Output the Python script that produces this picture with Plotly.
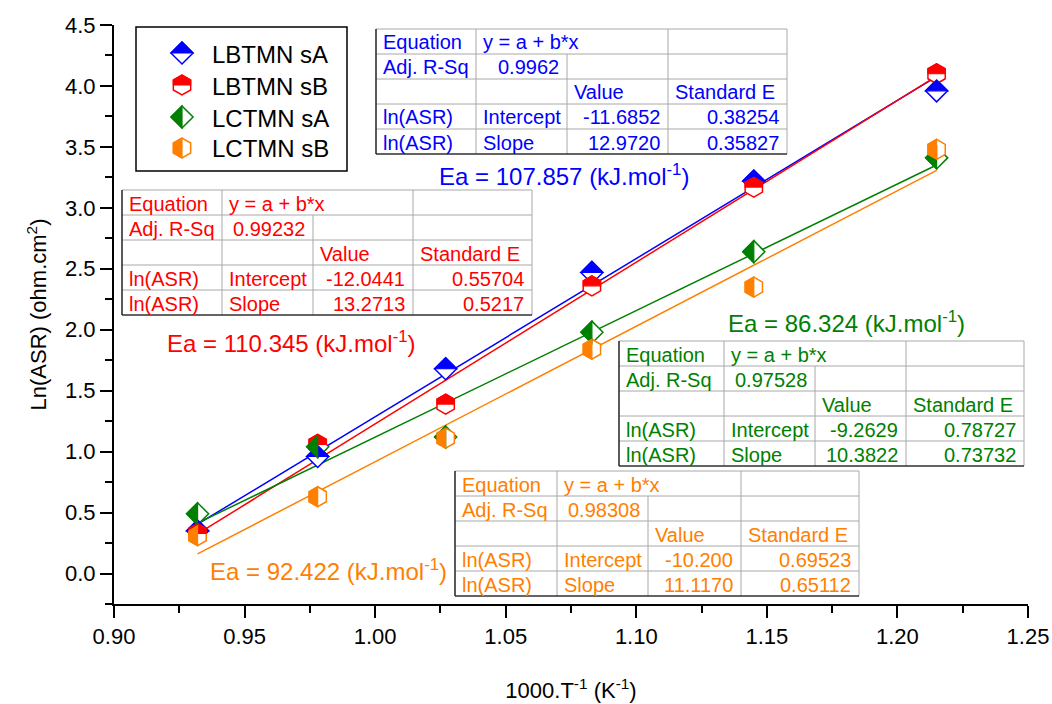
import plotly.graph_objects as go

# ---------------- data ----------------
x_vals = [0.932, 0.978, 1.027, 1.083, 1.145, 1.215]
series_names = ["LBTMN sA", "LBTMN sB", "LCTMN sA", "LCTMN sB"]
y_lbtmn_sa = [0.35, 0.96, 1.68, 2.47, 3.22, 3.96]
y_lbtmn_sb = [0.33, 1.06, 1.39, 2.36, 3.17, 4.10]
y_lctmn_sa = [0.49, 1.04, 1.12, 1.98, 2.64, 3.41]
y_lctmn_sb = [0.31, 0.63, 1.11, 1.84, 2.35, 3.48]
series_y = [y_lbtmn_sa, y_lbtmn_sb, y_lctmn_sa, y_lctmn_sb]

intercepts = [-11.6852, -12.0441, -9.2629, -10.200]
slopes = [12.9720, 13.2713, 10.3822, 11.1170]
intercept_txt = ["-11.6852", "-12.0441", "-9.2629", "-10.200"]
slope_txt = ["12.9720", "13.2713", "10.3822", "11.1170"]
intercept_se = ["0.38254", "0.55704", "0.78727", "0.69523"]
slope_se = ["0.35827", "0.5217", "0.73732", "0.65112"]
adj_r2 = ["0.9962", "0.99232", "0.97528", "0.98308"]
ea_vals = ["107.857", "110.345", "86.324", "92.422"]

x_tick_vals = [0.90, 0.95, 1.00, 1.05, 1.10, 1.15, 1.20, 1.25]
y_tick_vals = [0.0, 0.5, 1.0, 1.5, 2.0, 2.5, 3.0, 3.5, 4.0, 4.5]

# ---------------- style ----------------
FONT = "Liberation Sans, Arial, sans-serif"
colors = ["#0000FF", "#FF0000", "#008000", "#FF8000"]
symbols = ["diamond", "hexagon", "diamond", "hexagon"]
halves = ["top", "top", "left", "left"]
msize = {"diamond": 17, "hexagon": 20}

# plot area in pixels
L, R, T, B = 114, 1028, 25, 604
W, H = R - L, B - T


def px(xp):
    return (xp - L) / W


def py(yp):
    return (B - yp) / H


def outline_path(sym):
    if sym == "diamond":
        d = 1.3 * msize[sym] / 2
        return f"M{-d:.2f},0 L0,{d:.2f} L{d:.2f},0 L0,{-d:.2f} Z"
    r = msize[sym] / 2
    w = r * 3 ** 0.5 / 2
    return (f"M{w:.2f},{-r/2:.2f} L{w:.2f},{r/2:.2f} L0,{r:.2f} "
            f"L{-w:.2f},{r/2:.2f} L{-w:.2f},{-r/2:.2f} L0,{-r:.2f} Z")


def half_path(sym, half):
    if sym == "diamond":
        d = 1.3 * msize[sym] / 2
        if half == "top":
            return f"M{-d:.2f},0 L0,{d:.2f} L{d:.2f},0 Z"
        return f"M0,{d:.2f} L{-d:.2f},0 L0,{-d:.2f} Z"
    r = msize[sym] / 2
    w = r * 3 ** 0.5 / 2
    if half == "top":
        return (f"M{-w:.2f},0 L{-w:.2f},{r/2:.2f} L0,{r:.2f} "
                f"L{w:.2f},{r/2:.2f} L{w:.2f},0 Z")
    return (f"M0,{r:.2f} L{-w:.2f},{r/2:.2f} L{-w:.2f},{-r/2:.2f} "
            f"L0,{-r:.2f} Z")


fig = go.Figure()
shapes = []
annotations = []

# fit lines
x_fit = [min(x_vals), max(x_vals)]
for i in range(4):
    fig.add_trace(go.Scatter(
        x=x_fit, y=[intercepts[i] + slopes[i] * xv for xv in x_fit],
        mode="lines", line=dict(color=colors[i], width=1.5),
        showlegend=False, hoverinfo="skip"))

# data markers (white body with coloured outline)
for i in range(4):
    fig.add_trace(go.Scatter(
        x=x_vals, y=series_y[i], mode="markers", name=series_names[i],
        marker=dict(symbol=symbols[i], size=msize[symbols[i]], color="white",
                    line=dict(color=colors[i], width=1.5)),
        showlegend=False))

# half-filled parts of markers
for i in range(4):
    for xv, yv in zip(x_vals, series_y[i]):
        shapes.append(dict(
            type="path", xref="x", yref="y", xsizemode="pixel", ysizemode="pixel",
            xanchor=xv, yanchor=yv, path=half_path(symbols[i], halves[i]),
            fillcolor=colors[i], line=dict(color=colors[i], width=1.2),
            layer="above"))

# ---------------- legend (manual) ----------------
shapes.append(dict(type="rect", xref="paper", yref="paper",
                   x0=px(136), x1=px(347), y0=py(171), y1=py(27),
                   line=dict(color="black", width=1.5), fillcolor="white",
                   layer="above"))
leg_rows = [53, 85, 117, 148]
for i in range(4):
    shapes.append(dict(type="path", xref="paper", yref="paper",
                       xsizemode="pixel", ysizemode="pixel",
                       xanchor=px(182), yanchor=py(leg_rows[i]),
                       path=outline_path(symbols[i]), fillcolor="white",
                       line=dict(color=colors[i], width=1.5), layer="above"))
    shapes.append(dict(type="path", xref="paper", yref="paper",
                       xsizemode="pixel", ysizemode="pixel",
                       xanchor=px(182), yanchor=py(leg_rows[i]),
                       path=half_path(symbols[i], halves[i]), fillcolor=colors[i],
                       line=dict(color=colors[i], width=1.2), layer="above"))
    annotations.append(dict(xref="paper", yref="paper", x=px(210), y=py(leg_rows[i] + 1),
                            xanchor="left", yanchor="middle", showarrow=False,
                            text=series_names[i],
                            font=dict(family=FONT, size=24, color="black")))

# ---------------- fit-result tables ----------------
table_cols = [[376, 476, 567, 668, 787],
              [122, 222, 313, 413, 532],
              [619, 724, 815, 906, 1024],
              [455, 557, 648, 741, 859]]
table_tops = [29, 190, 341, 471]
row_h = 25
GRAY = "#A8A8A8"
DARK = "#303030"

for i in range(4):
    c = table_cols[i]
    t = table_tops[i]
    b = t + 5 * row_h
    col = colors[i]

    def hline(yp, x0, x1, color=GRAY, w=1):
        shapes.append(dict(type="line", xref="paper", yref="paper",
                           x0=px(x0), x1=px(x1), y0=py(yp), y1=py(yp),
                           line=dict(color=color, width=w), layer="above"))

    def vline(xp, y0, y1, color=GRAY, w=1):
        shapes.append(dict(type="line", xref="paper", yref="paper",
                           x0=px(xp), x1=px(xp), y0=py(y0), y1=py(y1),
                           line=dict(color=color, width=w), layer="above"))

    shapes.append(dict(type="rect", xref="paper", yref="paper",
                       x0=px(c[0]), x1=px(c[4]), y0=py(b), y1=py(t),
                       line=dict(width=0), fillcolor="white", layer="above"))
    for r in range(1, 5):
        hline(t + r * row_h, c[0], c[4])
    vline(c[1], t, b)
    vline(c[2], t + row_h, b)
    vline(c[3], t, b)
    hline(t, c[0], c[4])
    vline(c[4], t, b)
    hline(b, c[0], c[4], DARK, 1.6)
    vline(c[0], t, b, DARK, 1.6)

    cells = [
        (0, 0, "Equation", "l"), (0, 1, "y = a + b*x", "l"),
        (1, 0, "Adj. R-Sq", "l"), (1, 1, adj_r2[i], "r"),
        (2, 2, "Value", "l"), (2, 3, "Standard E", "l"),
        (3, 0, "ln(ASR)", "l"), (3, 1, "Intercept", "l"),
        (3, 2, intercept_txt[i], "r"), (3, 3, intercept_se[i], "r"),
        (4, 0, "ln(ASR)", "l"), (4, 1, "Slope", "l"),
        (4, 2, slope_txt[i], "r"), (4, 3, slope_se[i], "r"),
    ]
    for r, cc, txt, al in cells:
        yc = t + r * row_h + row_h / 2 + 1
        if al == "l":
            xa, anc = c[cc] + 5, "left"
        else:
            xa, anc = c[cc + 1] - 6, "right"
        annotations.append(dict(xref="paper", yref="paper", x=px(xa), y=py(yc),
                                xanchor=anc, yanchor="middle", showarrow=False,
                                text=txt, font=dict(family=FONT, size=20, color=col)))

# ---------------- activation energy labels ----------------
ea_pos = [(564, 175), (291, 342), (846, 322), (328, 570)]
for i in range(4):
    annotations.append(dict(xref="paper", yref="paper",
                            x=px(ea_pos[i][0]), y=py(ea_pos[i][1]),
                            xanchor="center", yanchor="middle", showarrow=False,
                            text=f"Ea = {ea_vals[i]} (kJ.mol<sup>-1</sup>)",
                            font=dict(family=FONT, size=24, color=colors[i])))

axis_common = dict(showline=True, linecolor="black", linewidth=2, mirror=False,
                   showgrid=False, zeroline=False, ticks="outside", ticklen=12,
                   tickwidth=2, tickcolor="black",
                   tickfont=dict(family=FONT, size=22, color="black"))

fig.update_layout(
    width=1052, height=704,
    margin=dict(l=L, r=1052 - R, t=T, b=704 - B, autoexpand=False),
    paper_bgcolor="white", plot_bgcolor="white",
    showlegend=False,
    shapes=shapes, annotations=annotations,
    xaxis=dict(range=[0.90, 1.25], tickvals=x_tick_vals,
               ticktext=["%.2f" % v for v in x_tick_vals],
               minor=dict(ticks="outside", ticklen=7, tickwidth=2, tickcolor="black",
                          dtick=0.025, tick0=0.9),
               title=dict(text="1000.T<sup>-1</sup> (K<sup>-1</sup>)", standoff=34,
                          font=dict(family=FONT, size=22, color="black")),
               **axis_common),
    yaxis=dict(range=[-0.25, 4.5], tickvals=y_tick_vals,
               ticktext=["%.1f" % v for v in y_tick_vals],
               minor=dict(ticks="outside", ticklen=7, tickwidth=2, tickcolor="black",
                          dtick=0.25, tick0=0),
               title=dict(text="Ln(ASR) (ohm.cm<sup>2</sup>)", standoff=12,
                          font=dict(family=FONT, size=22, color="black")),
               **axis_common),
)

fig.write_html("out.html")
